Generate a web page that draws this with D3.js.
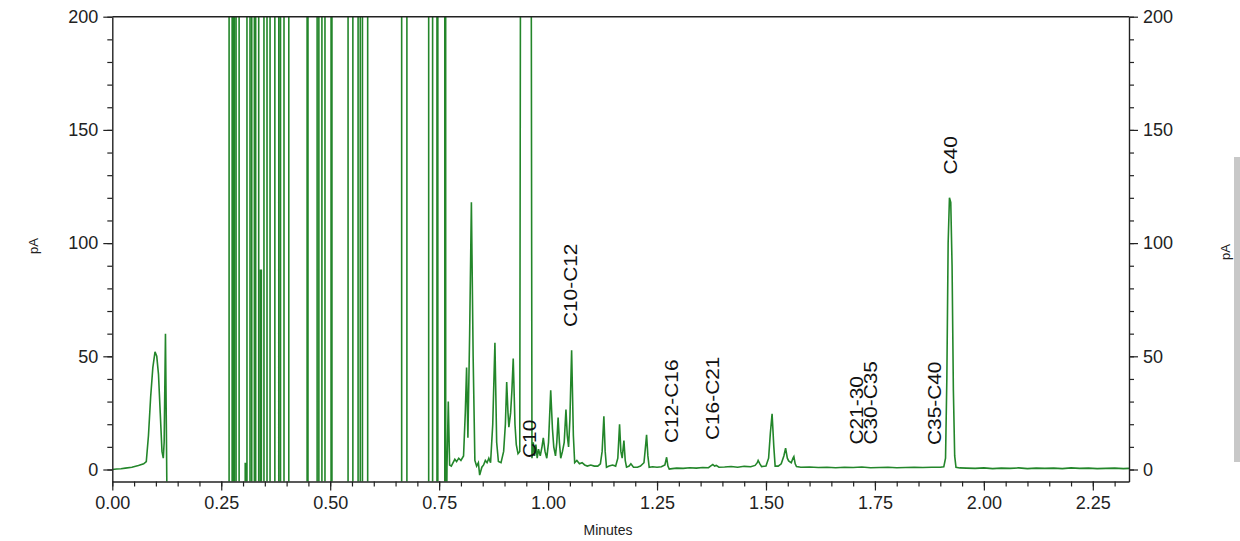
<!DOCTYPE html>
<html>
<head>
<meta charset="utf-8">
<script src="https://cdn.jsdelivr.net/npm/d3@7"></script>
<style>
  body { margin: 0; background: #fff; }
  svg { display: block; font-family: "Liberation Sans", Arial, sans-serif; }
</style>
</head>
<body>
<div id="chart-container"></div>
<script>
// Chart dimensions and margins.
const width = 1240;
const height = 541;
const marginTop = 16.7;
const marginRight = 111;
const marginBottom = 59.5;
const marginLeft = 112.3;

// Axis ticks.
const xTicks = [0, 0.25, 0.5, 0.75, 1.0, 1.25, 1.5, 1.75, 2.0, 2.25];
const yTicks = [0, 50, 100, 150, 200];

// Trace before the off-scale region (minutes, pA).
const startTimes  = [0.000, 0.010, 0.020, 0.030, 0.045, 0.060, 0.072, 0.078, 0.083, 0.088, 0.093, 0.098, 0.102, 0.106, 0.110, 0.114, 0.117, 0.119, 0.122, 0.124, 0.127];
const startValues = [0.0,   0.2,   0.3,   0.6,   1.0,   1.8,   2.5,   3.5,   15,    32,    45,    52,    50,    42,    25,    8,     5,     12,    60,    20,    -50];

// Off-scale spikes between 0.27 and 0.77 min: rise time, fall time, top (pA).
const spikeStarts = [0.268, 0.278, 0.284, 0.305, 0.309, 0.320, 0.329, 0.340, 0.348, 0.362, 0.382, 0.394, 0.447, 0.470, 0.481, 0.502, 0.541, 0.564, 0.574, 0.664, 0.726, 0.745, 0.763];
const spikeEnds   = [0.275, 0.280, 0.291, 0.306, 0.316, 0.326, 0.336, 0.342, 0.355, 0.373, 0.386, 0.405, 0.449, 0.474, 0.488, 0.504, 0.552, 0.569, 0.586, 0.676, 0.735, 0.747, 0.765];
const spikeTops   = [400,   400,   400,   2.6,   400,   400,   400,   88,    400,   400,   400,   400,   400,   400,   400,   400,   400,   400,   400,   400,   400,   400,   400];

// Trace after the off-scale region (minutes, pA).
const traceTimes = [
  0.766, 0.768, 0.771, 0.774, 0.778, 0.782, 0.786, 0.790, 0.795, 0.800, 0.806, 0.810, 0.813, 0.816, 0.820, 0.824, 0.828, 0.832, 0.836, 0.840,
  0.843, 0.848, 0.852, 0.856, 0.860, 0.864, 0.868, 0.873, 0.878, 0.882, 0.886, 0.892, 0.898, 0.902, 0.905, 0.908, 0.910, 0.914, 0.917, 0.920,
  0.924, 0.927, 0.931, 0.935, 0.938, 0.960, 0.963, 0.966, 0.969, 0.972, 0.975, 0.978, 0.982, 0.986, 0.989, 0.993, 0.997, 1.001, 1.006, 1.010,
  1.013, 1.017, 1.020, 1.023, 1.026, 1.029, 1.033, 1.037, 1.041, 1.044, 1.047, 1.050, 1.054, 1.058, 1.061, 1.066, 1.072, 1.078, 1.084, 1.090,
  1.098, 1.106, 1.114, 1.120, 1.124, 1.128, 1.131, 1.134, 1.140, 1.148, 1.155, 1.160, 1.164, 1.167, 1.170, 1.174, 1.177, 1.180, 1.186, 1.190,
  1.196, 1.205, 1.212, 1.220, 1.223, 1.226, 1.229, 1.232, 1.240, 1.250, 1.260, 1.268, 1.272, 1.275, 1.278, 1.285, 1.295, 1.310, 1.325, 1.340,
  1.355, 1.368, 1.375, 1.378, 1.382, 1.386, 1.392, 1.405, 1.420, 1.435, 1.450, 1.465, 1.475, 1.480, 1.482, 1.486, 1.490, 1.500, 1.506, 1.510,
  1.514, 1.518, 1.521, 1.528, 1.535, 1.541, 1.545, 1.549, 1.552, 1.558, 1.562, 1.564, 1.567, 1.570, 1.580, 1.600, 1.620, 1.640, 1.660, 1.680,
  1.700, 1.720, 1.740, 1.760, 1.780, 1.800, 1.820, 1.840, 1.860, 1.880, 1.900, 1.908, 1.912, 1.915, 1.918, 1.921, 1.924, 1.927, 1.930, 1.933,
  1.936, 1.945, 1.960, 1.980, 2.000, 2.020, 2.040, 2.060, 2.080, 2.100, 2.120, 2.140, 2.160, 2.180, 2.200, 2.220, 2.240, 2.260, 2.280, 2.300,
  2.320, 2.333
];
const traceValues = [
  -50, 1, 30, 2, 1.5, 3, 4.5, 3.5, 5, 4, 6, 25, 45, 14, 60, 118, 50, 4, 1.5, 3,
  -2.5, 1, 2, 4, 3, 5, 3, 20, 56, 12, 3.5, 3, 8, 20, 38.6, 25, 18.7, 25, 35, 49,
  20, 11, 7, 8, 400, 400, 5, 12, 6, 11, 5, 9, 6, 10, 14, 8, 5, 12, 35, 18,
  10, 6, 12, 23, 12, 5, 8, 12, 26.5, 15, 10, 22, 52.7, 15, 3, 4, 2.5, 3, 2, 1.5,
  2, 1.5, 1.5, 2.5, 8, 23.5, 8, 1, 1.5, 2, 1.5, 5, 20, 8, 5, 12.8, 4, 1, 1.5, 2.5,
  1, 1, 1.5, 3, 9, 15.3, 6, 1, 1.2, 1, 1.2, 2, 5.4, 1.5, 0.2, 0.4, 0.6, 0.5, 0.8, 0.6,
  0.9, 0.8, 1.8, 2.2, 1.5, 1.8, 1, 1.1, 1.3, 1.0, 1.4, 1.2, 1.8, 3, 4, 2.5, 1.3, 1.5, 5, 16,
  24.6, 10, 1.5, 1.5, 2.5, 6, 9.4, 5, 3.8, 3, 5, 5.7, 2.5, 1.3, 1.0, 1.1, 0.9, 1.0, 0.8, 1.0,
  0.9, 1.1, 0.8, 0.9, 1.0, 0.8, 0.9, 1.0, 0.9, 1.0, 1.0, 1.2, 5, 40, 100, 120, 118, 90, 35, 6,
  1, 0.7, 0.6, 0.5, 0.7, 0.4, 0.6, 0.5, 0.7, 0.4, 0.6, 0.5, 0.6, 0.4, 0.7, 0.5, 0.6, 0.4, 0.5, 0.6,
  0.4, 0.5
];

// Peak labels: centre time (min) and bottom of the text (pA).
const peakLabels = ["C10", "C10-C12", "C12-C16", "C16-C21", "C21-30", "C30-C35", "C35-C40", "C40"];
const labelTimes = [0.958, 1.052, 1.284, 1.378, 1.708, 1.740, 1.887, 1.923];
const labelBases = [5.1, 62.9, 11.7, 13, 11, 11, 10.8, 130.3];

// Build the trace points.
const points = [];
startTimes.forEach((t, i) => points.push({t, v: startValues[i]}));
spikeStarts.forEach((s, i) => {
  points.push({t: s, v: -50});
  points.push({t: s, v: spikeTops[i]});
  points.push({t: spikeEnds[i], v: spikeTops[i]});
  points.push({t: spikeEnds[i], v: -50});
});
traceTimes.forEach((t, i) => points.push({t, v: traceValues[i]}));

// Scales.
const x = d3.scaleLinear()
    .domain([0, 2.333])
    .range([marginLeft, width - marginRight]);

const y = d3.scaleLinear()
    .domain([-5.3, 200])
    .range([height - marginBottom, marginTop]);

const svg = d3.create("svg")
    .attr("width", width)
    .attr("height", height);

svg.append("defs").append("clipPath")
    .attr("id", "plot-clip")
  .append("rect")
    .attr("x", marginLeft)
    .attr("y", marginTop)
    .attr("width", width - marginRight - marginLeft)
    .attr("height", height - marginBottom - marginTop);

// The trace.
const line = d3.line()
    .x(d => x(d.t))
    .y(d => y(d.v));

svg.append("path")
    .datum(points)
    .attr("clip-path", "url(#plot-clip)")
    .attr("fill", "none")
    .attr("stroke", "#23862a")
    .attr("stroke-width", 1.6)
    .attr("stroke-linejoin", "miter")
    .attr("d", line);

const axisColor = "#222";
const styleAxis = g => {
  g.selectAll(".domain").attr("stroke", axisColor).attr("stroke-width", 1.4);
  g.selectAll(".tick line").attr("stroke", axisColor).attr("stroke-width", 1.2);
  g.selectAll(".tick text")
      .attr("fill", "#222")
      .style("font-size", "18px")
      .style("font-family", "'Liberation Sans', Arial, sans-serif");
};

// Minor ticks.
svg.append("g")
    .attr("transform", `translate(0,${height - marginBottom})`)
    .call(d3.axisBottom(x).tickValues(d3.range(0, 2.333, 0.05)).tickSize(5).tickFormat(""))
    .call(g => g.select(".domain").remove())
    .call(styleAxis);

svg.append("g")
    .attr("transform", `translate(${marginLeft},0)`)
    .call(d3.axisLeft(y).tickValues(d3.range(0, 201, 10)).tickSize(5).tickFormat(""))
    .call(g => g.select(".domain").remove())
    .call(styleAxis);

svg.append("g")
    .attr("transform", `translate(${width - marginRight},0)`)
    .call(d3.axisRight(y).tickValues(d3.range(0, 201, 10)).tickSize(5).tickFormat(""))
    .call(g => g.select(".domain").remove())
    .call(styleAxis);

// Main axes.
svg.append("g")
    .attr("transform", `translate(0,${height - marginBottom})`)
    .call(d3.axisBottom(x).tickValues(xTicks).tickSize(9).tickSizeOuter(0).tickPadding(6).tickFormat(d3.format(".2f")))
    .call(styleAxis);

svg.append("g")
    .attr("transform", `translate(${marginLeft},0)`)
    .call(d3.axisLeft(y).tickValues(yTicks).tickSize(9).tickSizeOuter(0).tickPadding(5))
    .call(styleAxis);

svg.append("g")
    .attr("transform", `translate(${width - marginRight},0)`)
    .call(d3.axisRight(y).tickValues(yTicks).tickSize(9).tickSizeOuter(0).tickPadding(5))
    .call(styleAxis);

// Top frame line.
svg.append("line")
    .attr("x1", marginLeft)
    .attr("x2", width - marginRight)
    .attr("y1", marginTop)
    .attr("y2", marginTop)
    .attr("stroke", axisColor)
    .attr("stroke-width", 1.4);

// Peak labels.
svg.append("g")
  .selectAll("text")
  .data(peakLabels)
  .join("text")
    .attr("transform", (d, i) => `translate(${x(labelTimes[i]) + 6.5},${y(labelBases[i])}) rotate(-90) scale(1.16,1)`)
    .attr("fill", "#111")
    .style("font-size", "18px")
    .text(d => d);

// Axis titles.
svg.append("text")
    .attr("transform", `translate(${38},${246}) rotate(-90)`)
    .attr("text-anchor", "middle")
    .attr("fill", "#222")
    .style("font-size", "13px")
    .text("pA");

svg.append("text")
    .attr("transform", `translate(${1230},${252}) rotate(-90)`)
    .attr("text-anchor", "middle")
    .attr("fill", "#222")
    .style("font-size", "13px")
    .text("pA");

svg.append("text")
    .attr("x", 608)
    .attr("y", 535)
    .attr("text-anchor", "middle")
    .attr("fill", "#222")
    .style("font-size", "14px")
    .text("Minutes");

// Grey scroll bar on the right edge.
svg.append("rect")
    .attr("x", 1234)
    .attr("y", 157)
    .attr("width", 6)
    .attr("height", 305)
    .attr("fill", "#c8c8c8");

d3.select("#chart-container").append(() => svg.node());
</script>
</body>
</html>
